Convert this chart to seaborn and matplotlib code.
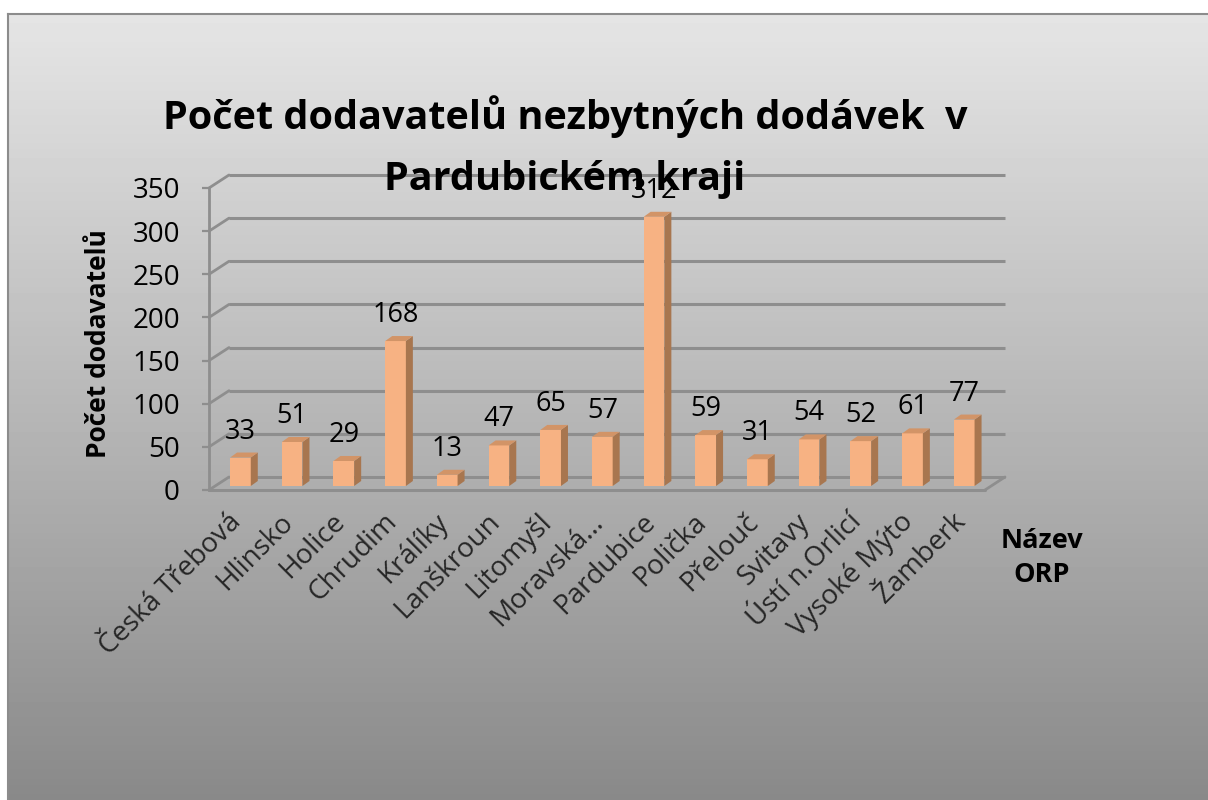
import numpy as np
import matplotlib
matplotlib.use("Agg")
import matplotlib.pyplot as plt
from matplotlib.patches import Polygon
import seaborn as sns

categories = ["Česká Třebová", "Hlinsko", "Holice", "Chrudim", "Králíky", "Lanškroun",
              "Litomyšl", "Moravská…", "Pardubice", "Polička", "Přelouč", "Svitavy",
              "Ústí n.Orlicí", "Vysoké Mýto", "Žamberk"]
values = [33, 51, 29, 168, 13, 47, 65, 57, 312, 59, 31, 54, 52, 61, 77]
y_ticks = [0, 50, 100, 150, 200, 250, 300, 350]
title_lines = ["Počet dodavatelů nezbytných dodávek  v", "Pardubickém kraji"]
y_label = "Počet dodavatelů"
x_label = "Název\nORP"

sns.set_style("white")
plt.rcParams['font.family'] = ['Open Sans', 'DejaVu Sans']

W, H = 1208, 800
fig = plt.figure(figsize=(W / 100, H / 100), dpi=100)
fig.patch.set_facecolor('white')

# background panel with vertical gradient
bg = fig.add_axes([8 / W, 0, 1 - 8 / W, (H - 14) / H])
grad = np.linspace(229, 137, 256)[:, None]
bg.imshow(grad, cmap='gray', vmin=0, vmax=255, aspect='auto',
          extent=[0, 1, 0, 1], origin='upper')
bg.set_xlim(0, 1)
bg.set_ylim(0, 1)
bg.set_xticks([])
bg.set_yticks([])
for s in bg.spines.values():
    s.set_color('#8c8c8c')
    s.set_linewidth(1.5)
bg.spines['bottom'].set_visible(False)
bg.spines['right'].set_visible(False)

# main axes (front plane)
x0, x1 = 209, 985
y0, y1 = 490, 188
ax = fig.add_axes([x0 / W, (H - y0) / H, (x1 - x0) / W, (y0 - y1) / H])
ax.patch.set_alpha(0)
ax.set_zorder(2)

front = '#F7B283'
topc = '#D29467'
sidec = '#A8764F'
gridc = '#8e8e8e'

sns.barplot(x=categories, y=values, ax=ax, color=front, saturation=1,
            width=0.4, errorbar=None)

xl, xr = -0.55, 14.46
ax.set_xlim(xl, xr)
ax.set_ylim(0, 350)
ppx = (x1 - x0) / (xr - xl)
ppy = (y0 - y1) / 350.0

# bar 3D offsets
dxb, dyb = 3 / ppx, 4 / ppy
ddx, ddy = 7 / ppx, 5 / ppy
for p in ax.patches:
    p.set_x(p.get_x() + dxb)
    p.set_y(dyb)
    p.set_edgecolor('none')
    p.set_zorder(3)
    p.set_clip_on(False)
    px, pw, h = p.get_x(), p.get_width(), p.get_height()
    b = dyb
    xr_ = px + pw
    side = Polygon([(xr_, b), (xr_, b + h), (xr_ + ddx, b + h + ddy), (xr_ + ddx, b + ddy)],
                   closed=True, facecolor=sidec, edgecolor='none', zorder=3, clip_on=False)
    top = Polygon([(px, b + h), (xr_, b + h), (xr_ + ddx, b + h + ddy), (px + ddx, b + h + ddy)],
                  closed=True, facecolor=topc, edgecolor='none', zorder=3, clip_on=False)
    ax.add_patch(side)
    ax.add_patch(top)

# walls and floor
wdx, wdy = 20 / ppx, 13 / ppy
for v in y_ticks:
    ax.plot([xl + wdx, xr + wdx], [v + wdy, v + wdy], color=gridc, lw=2.2,
            zorder=1, clip_on=False, solid_capstyle='butt')
    ax.plot([xl, xl + wdx], [v, v + wdy], color=gridc, lw=2.0, zorder=1, clip_on=False)
ax.plot([xl, xr], [0, 0], color=gridc, lw=2.2, zorder=1, clip_on=False)
ax.plot([xr, xr + wdx], [0, wdy], color=gridc, lw=2.0, zorder=1, clip_on=False)

# data labels
for i, v in enumerate(values):
    ax.annotate(str(v), (i, v), xytext=(3, 30), textcoords='offset pixels',
                ha='center', va='center', fontsize=19.5, color='black', zorder=5)

# axes styling
for s in ['top', 'right', 'bottom']:
    ax.spines[s].set_visible(False)
ax.spines['left'].set_color(gridc)
ax.spines['left'].set_linewidth(2.0)
ax.set_yticks(y_ticks)
ax.set_yticklabels([str(t) for t in y_ticks])
ax.tick_params(axis='y', length=5, width=1.6, color=gridc, pad=16,
               labelsize=20, labelcolor='black', left=True)
ax.set_xticks(range(len(categories)))
ax.set_xticklabels(categories, rotation=45, ha='right', va='center',
                   rotation_mode='anchor', fontsize=20)
ax.tick_params(axis='x', length=0, pad=20)
ax.set_xlabel('')
ax.set_ylabel('')
ax.grid(False)

# titles and labels
fig.text(565 / W, (H - 129) / H, title_lines[0], ha='center', va='baseline',
         fontsize=28.5, fontweight='bold', color='black', zorder=10)
fig.text(565 / W, (H - 190) / H, title_lines[1], ha='center', va='baseline',
         fontsize=28.5, fontweight='bold', color='black', zorder=10)
fig.text(98 / W, (H - 344) / H, y_label, rotation=90, ha='center', va='center',
         fontsize=19, fontweight='bold', color='black')
fig.text(1042 / W, (H - 558) / H, x_label, ha='center', va='center',
         fontsize=19.5, fontweight='bold', color='black', linespacing=1.45)

fig.savefig('out.png', dpi=100)
